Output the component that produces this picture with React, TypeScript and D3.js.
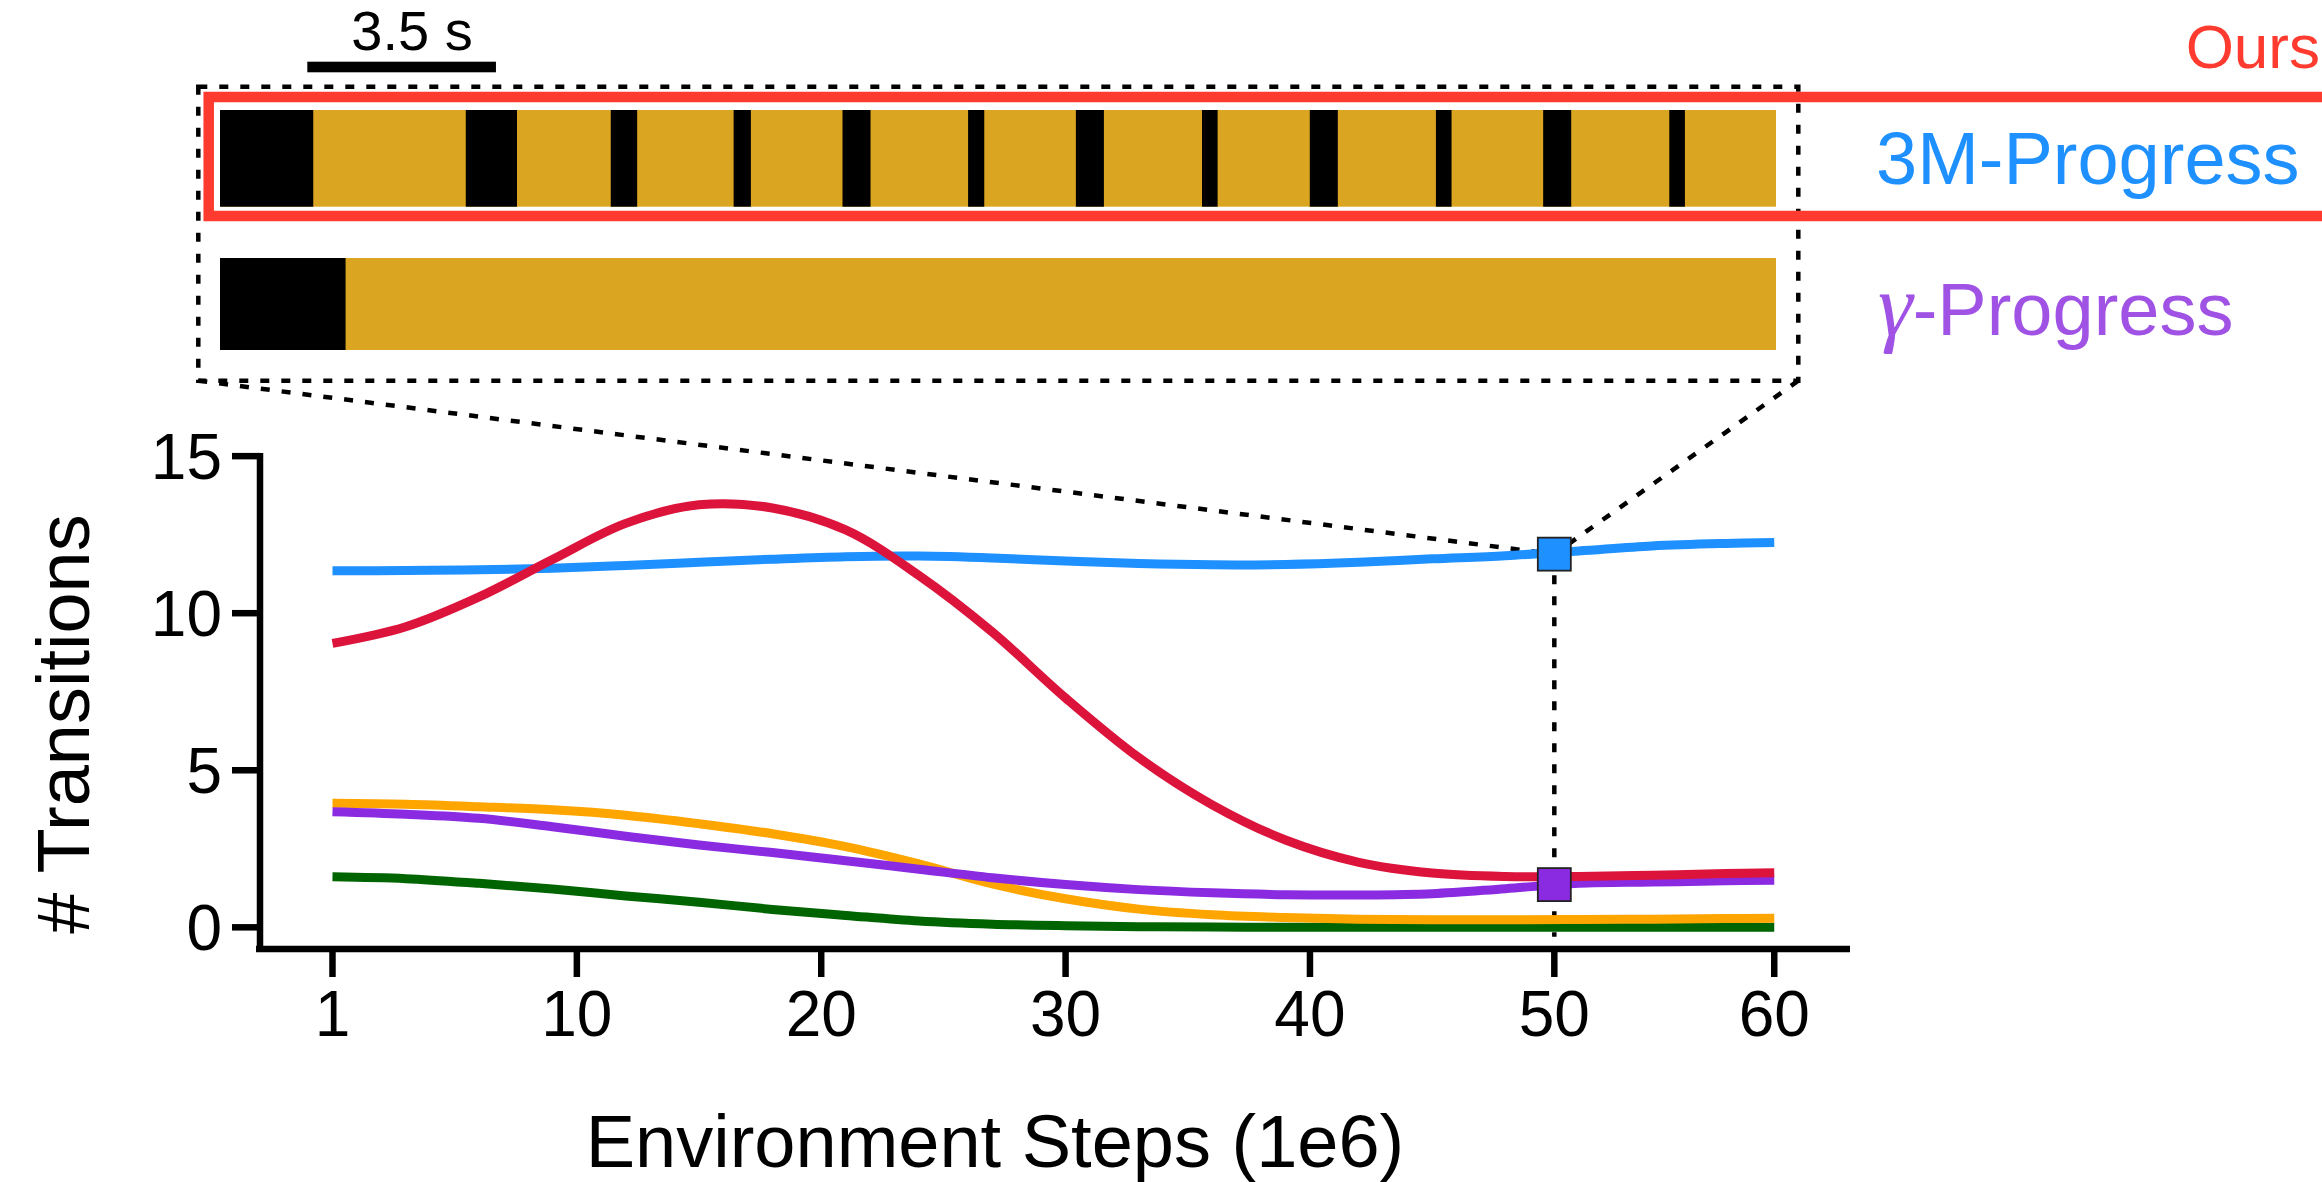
import React, { useEffect, useRef } from 'react';
import * as d3 from 'd3';

const W = 2322;
const H = 1182;

// ---- line chart data (x = checkpoint index, label = env steps 1e6) ----
const sampleIndex = [0, 3, 6, 9, 12, 15, 18, 21, 24, 27, 30, 33, 36, 39, 42, 45, 48, 51, 54, 57, 59];
const oursValues = [9.04, 9.57, 10.52, 11.71, 12.86, 13.45, 13.35, 12.65, 11.2, 9.4, 7.3, 5.4, 3.9, 2.78, 2.07, 1.73, 1.62, 1.62, 1.66, 1.71, 1.74];
const m3ProgressValues = [11.35, 11.36, 11.38, 11.43, 11.52, 11.62, 11.72, 11.8, 11.82, 11.76, 11.66, 11.58, 11.54, 11.55, 11.62, 11.73, 11.83, 11.98, 12.14, 12.22, 12.25];
const orangeValues = [3.95, 3.92, 3.84, 3.74, 3.57, 3.3, 2.98, 2.57, 2.02, 1.38, 0.91, 0.58, 0.4, 0.31, 0.26, 0.24, 0.24, 0.25, 0.26, 0.28, 0.29];
const gammaProgressValues = [3.68, 3.6, 3.47, 3.2, 2.9, 2.62, 2.38, 2.12, 1.85, 1.58, 1.36, 1.2, 1.1, 1.04, 1.03, 1.07, 1.23, 1.4, 1.44, 1.48, 1.5];
const greenValues = [1.61, 1.55, 1.4, 1.22, 1.0, 0.8, 0.57, 0.38, 0.2, 0.1, 0.05, 0.02, 0.01, 0, 0, 0, 0, 0, 0, 0, 0];

const xTickValues = [0, 10, 20, 30, 40, 50, 59];
const xTickLabels = ['1', '10', '20', '30', '40', '50', '60'];
const yTickValues = [0, 5, 10, 15];
const highlightIndex = 50;
const m3AtHighlight = 11.88;
const gammaAtHighlight = 1.36;

// ---- timeline strips (seconds) ----
const timelineDuration = 28.87;
const m3BlackSegments: [number, number][] = [
  [0, 1.73], [4.56, 5.51], [7.25, 7.74], [9.53, 9.85], [11.55, 12.07], [13.88, 14.18],
  [15.88, 16.4], [18.22, 18.51], [20.22, 20.74], [22.56, 22.85], [24.55, 25.07], [26.89, 27.18],
];
const gammaBlackSegments: [number, number][] = [[0, 2.33]];
const scaleBarSeconds = 3.5;
const scaleBarStartSec = 1.62;

const C = {
  ours: '#DC143C',
  m3: '#1E90FF',
  orange: '#FFA500',
  gamma: '#8A2BE2',
  green: '#006400',
  gold: '#DAA520',
  oursText: '#FF3B30',
  gammaText: '#A052E4',
};

const FONT = '"Liberation Sans", Arial, Helvetica, sans-serif';

export default function App() {
  const ref = useRef<SVGSVGElement | null>(null);

  useEffect(() => {
    const svg = d3.select(ref.current);
    svg.selectAll('*').remove();

    const x = d3.scaleLinear().domain([-3.13, 62.1]).range([256, 1850]);
    const y = d3.scaleLinear().domain([-0.69, 15.1]).range([949, 453]);
    const t = d3.scaleLinear().domain([0, timelineDuration]).range([220, 1776]);

    // ---------- top timeline panel ----------
    const top = svg.append('g');
    top.append('rect')
      .attr('x', t(scaleBarStartSec)).attr('y', 61.7)
      .attr('width', t(scaleBarStartSec + scaleBarSeconds) - t(scaleBarStartSec)).attr('height', 10.6)
      .attr('fill', '#000');
    top.append('text')
      .attr('x', 412).attr('y', 50)
      .attr('text-anchor', 'middle')
      .attr('font-family', FONT).attr('font-size', 56)
      .text(`${scaleBarSeconds} s`);

    const box = { x0: 198.3, y0: 86.7, x1: 1798.3, y1: 380.7 };
    top.append('rect')
      .attr('x', box.x0).attr('y', box.y0)
      .attr('width', box.x1 - box.x0).attr('height', box.y1 - box.y0)
      .attr('fill', 'none').attr('stroke', '#000').attr('stroke-width', 4.5)
      .attr('stroke-dasharray', '9 12');

    top.append('rect')
      .attr('x', 208.7).attr('y', 97)
      .attr('width', 2200).attr('height', 119)
      .attr('fill', 'none').attr('stroke', C.oursText).attr('stroke-width', 10.5);

    const strips = [
      { segs: m3BlackSegments, y0: 110, y1: 206.7 },
      { segs: gammaBlackSegments, y0: 258, y1: 350 },
    ];
    strips.forEach((s) => {
      top.append('rect')
        .attr('x', t(0)).attr('y', s.y0)
        .attr('width', t(timelineDuration) - t(0)).attr('height', s.y1 - s.y0)
        .attr('fill', C.gold);
      top.selectAll(null)
        .data(s.segs)
        .enter()
        .append('rect')
        .attr('x', (d) => t(d[0]))
        .attr('y', s.y0)
        .attr('width', (d) => t(d[1]) - t(d[0]))
        .attr('height', s.y1 - s.y0)
        .attr('fill', '#000');
    });

    top.append('text')
      .attr('x', 2320).attr('y', 68).attr('text-anchor', 'end')
      .attr('font-family', FONT).attr('font-size', 62).attr('fill', C.oursText)
      .text('Ours');
    top.append('text')
      .attr('x', 1876).attr('y', 184)
      .attr('font-family', FONT).attr('font-size', 74).attr('fill', C.m3)
      .text('3M-Progress');
    const g = top.append('text')
      .attr('x', 1878).attr('y', 335)
      .attr('font-family', FONT).attr('font-size', 74).attr('fill', C.gammaText);
    g.append('tspan')
      .attr('font-family', '"Liberation Serif", "DejaVu Serif", serif')
      .attr('font-style', 'italic')
      .attr('font-size', 88)
      .text('γ');
    g.append('tspan').text('-Progress');

    // ---------- axes ----------
    const xAxis = d3.axisBottom(x)
      .tickValues(xTickValues)
      .tickFormat((d, i) => xTickLabels[i])
      .tickSize(28)
      .tickSizeOuter(0)
      .tickPadding(14)
      .offset(0);
    const gx = svg.append('g').attr('transform', 'translate(0,949)').call(xAxis);

    const yAxis = d3.axisLeft(y)
      .tickValues(yTickValues)
      .tickFormat(d3.format('d'))
      .tickSize(28)
      .tickSizeOuter(0)
      .tickPadding(10)
      .offset(0);
    const gy = svg.append('g').attr('transform', 'translate(260,0)').call(yAxis);

    [gx, gy].forEach((ax) => {
      ax.select('.domain').attr('stroke', '#000').attr('stroke-width', 6.5);
      ax.selectAll('.tick line').attr('stroke', '#000').attr('stroke-width', 6.5);
      ax.selectAll('.tick text')
        .attr('font-family', FONT).attr('font-size', 64).attr('fill', '#000');
    });
    gy.selectAll('.tick text').attr('dy', '0.36em');

    svg.append('text')
      .attr('x', 995).attr('y', 1167).attr('text-anchor', 'middle')
      .attr('font-family', FONT).attr('font-size', 74)
      .text('Environment Steps (1e6)');
    svg.append('text')
      .attr('transform', 'translate(89,724) rotate(-90)')
      .attr('text-anchor', 'middle')
      .attr('font-family', FONT).attr('font-size', 74)
      .text('# Transitions');

    // ---------- connector dashed lines ----------
    const mx = x(highlightIndex);
    const my = y(m3AtHighlight);
    const conn = svg.append('g')
      .attr('stroke', '#000').attr('stroke-width', 4.5).attr('stroke-dasharray', '9 12').attr('fill', 'none');
    conn.append('line').attr('x1', box.x0).attr('y1', box.y1).attr('x2', mx).attr('y2', my);
    conn.append('line').attr('x1', box.x1).attr('y1', box.y1).attr('x2', mx).attr('y2', my);
    conn.append('line').attr('x1', mx).attr('y1', my).attr('x2', mx).attr('y2', y(-0.3));

    // ---------- lines ----------
    const series = [
      { vals: greenValues, color: C.green },
      { vals: orangeValues, color: C.orange },
      { vals: gammaProgressValues, color: C.gamma },
      { vals: m3ProgressValues, color: C.m3 },
      { vals: oursValues, color: C.ours },
    ];
    const line = d3.line<number>()
      .x((_, i) => x(sampleIndex[i]))
      .y((d) => y(d))
      .curve(d3.curveCatmullRom.alpha(0.5));
    svg.append('g')
      .selectAll('path')
      .data(series)
      .enter()
      .append('path')
      .attr('d', (d) => line(d.vals))
      .attr('fill', 'none')
      .attr('stroke', (d) => d.color)
      .attr('stroke-width', 9);

    const markers = [
      { v: m3AtHighlight, color: C.m3 },
      { v: gammaAtHighlight, color: C.gamma },
    ];
    svg.append('g')
      .selectAll('rect')
      .data(markers)
      .enter()
      .append('rect')
      .attr('x', mx - 16.5)
      .attr('y', (d) => y(d.v) - 16.5)
      .attr('width', 33).attr('height', 33)
      .attr('fill', (d) => d.color)
      .attr('stroke', '#222').attr('stroke-width', 1.8);
  }, []);

  return (
    <svg
      ref={ref}
      width={W}
      height={H}
      viewBox={`0 0 ${W} ${H}`}
      style={{ position: 'absolute', left: 0, top: 0, display: 'block', background: '#fff' }}
    />
  );
}
